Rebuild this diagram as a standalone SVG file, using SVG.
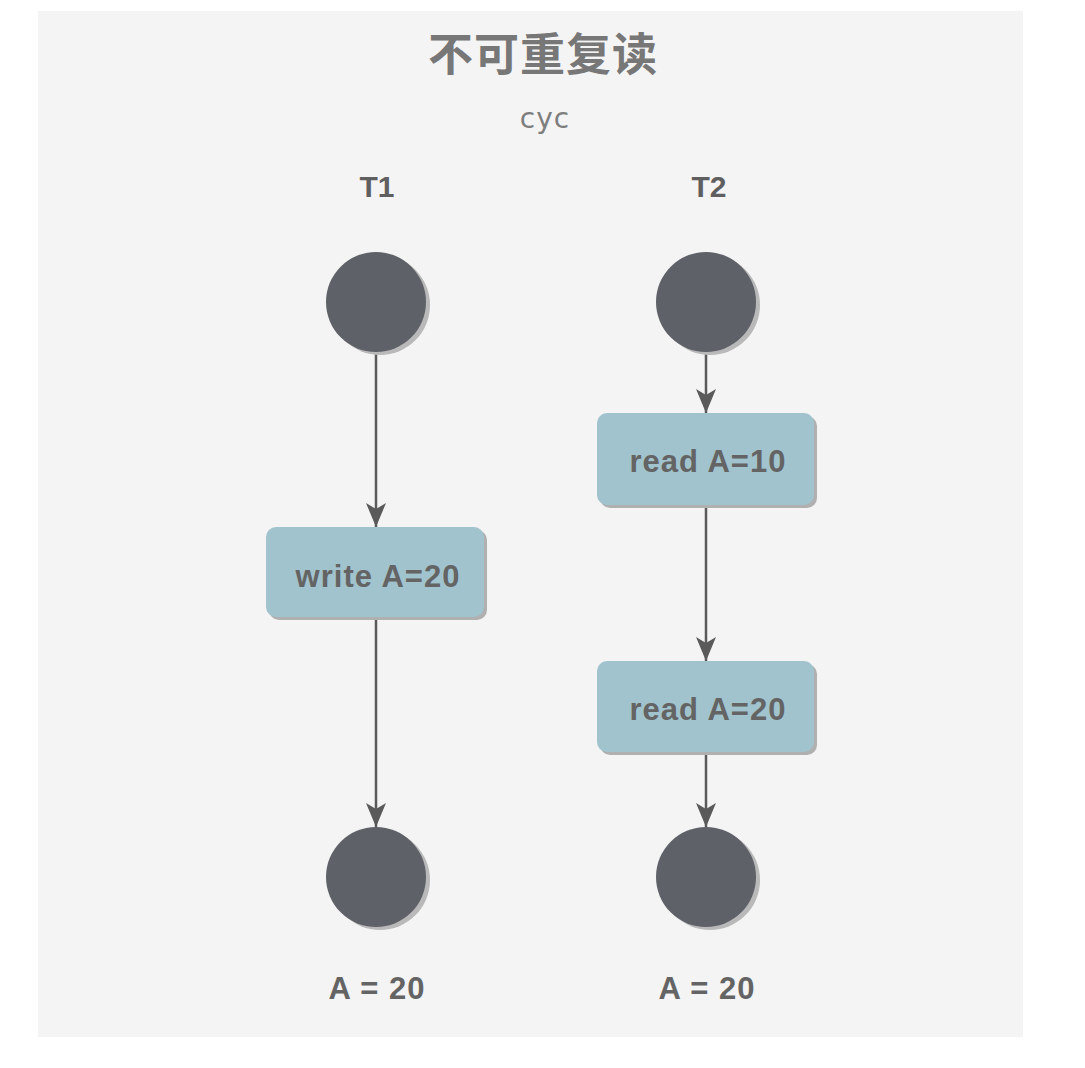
<svg xmlns="http://www.w3.org/2000/svg" width="1085" height="1068" viewBox="0 0 1085 1068">
<defs>
<style>
.bg{fill:#f4f4f4}
.circ{fill:#5f6169}
.csh{fill:#b9b9b9}
.box{fill:#a1c3ce}
.bsh{fill:#b0b0b0}
.lbl{font-family:"Liberation Sans",Arial,sans-serif;font-weight:bold;font-size:31px;fill:#646464;text-anchor:middle;letter-spacing:1px}
.hdr{font-family:"Liberation Sans",Arial,sans-serif;font-weight:bold;font-size:30px;fill:#5f5f5f;text-anchor:middle}
.edge{stroke:#5a5a5a;stroke-width:2.5;fill:none}
</style>
<marker id="arr" markerUnits="userSpaceOnUse" markerWidth="24" markerHeight="22" refX="24" refY="11" orient="auto">
<path d="M0,1 L24,11 L0,21 L6,11 Z" fill="#5a5a5a"/>
</marker>
</defs>
<rect class="bg" x="38" y="11" width="985" height="1026"/>
<text x="543" y="71" font-family="'Noto Sans CJK SC',sans-serif" font-weight="bold" font-size="45" fill="#777777" text-anchor="middle" letter-spacing="1">不可重复读</text>
<text x="545" y="128" font-family="'DejaVu Sans',sans-serif" font-size="28" fill="#7e7e7e" text-anchor="middle" letter-spacing="1">cyc</text>
<text class="hdr" x="377" y="197">T1</text>
<text class="hdr" x="709" y="197">T2</text>
<g id="connectors">
<line class="edge" x1="376" y1="352" x2="376" y2="527" marker-end="url(#arr)"/>
<line class="edge" x1="376" y1="617" x2="376" y2="827" marker-end="url(#arr)"/>
<line class="edge" x1="706" y1="352" x2="706" y2="413" marker-end="url(#arr)"/>
<line class="edge" x1="706" y1="505" x2="706" y2="661" marker-end="url(#arr)"/>
<line class="edge" x1="706" y1="752" x2="706" y2="827" marker-end="url(#arr)"/>
</g>
<g id="t1-start">
<circle class="csh" cx="380" cy="305" r="50"/>
<circle class="circ" cx="376" cy="302" r="50"/>
</g>
<g id="t2-start">
<circle class="csh" cx="710" cy="305" r="50"/>
<circle class="circ" cx="706" cy="302" r="50"/>
</g>
<g id="write-a20">
<rect class="bsh" x="269" y="530" width="218" height="90" rx="10"/>
<rect class="box" x="266" y="527" width="218" height="90" rx="10"/>
<text class="lbl" x="378" y="587">write A=20</text>
</g>
<g id="read-a10">
<rect class="bsh" x="600" y="416" width="217" height="92" rx="10"/>
<rect class="box" x="597" y="413" width="217" height="92" rx="10"/>
<text class="lbl" x="708" y="472">read A=10</text>
</g>
<g id="read-a20">
<rect class="bsh" x="600" y="664" width="217" height="91" rx="10"/>
<rect class="box" x="597" y="661" width="217" height="91" rx="10"/>
<text class="lbl" x="708" y="720">read A=20</text>
</g>
<g id="t1-end">
<circle class="csh" cx="380" cy="880" r="50"/>
<circle class="circ" cx="376" cy="877" r="50"/>
<text class="lbl" x="377" y="999">A = 20</text>
</g>
<g id="t2-end">
<circle class="csh" cx="710" cy="880" r="50"/>
<circle class="circ" cx="706" cy="877" r="50"/>
<text class="lbl" x="707" y="999">A = 20</text>
</g>
</svg>
